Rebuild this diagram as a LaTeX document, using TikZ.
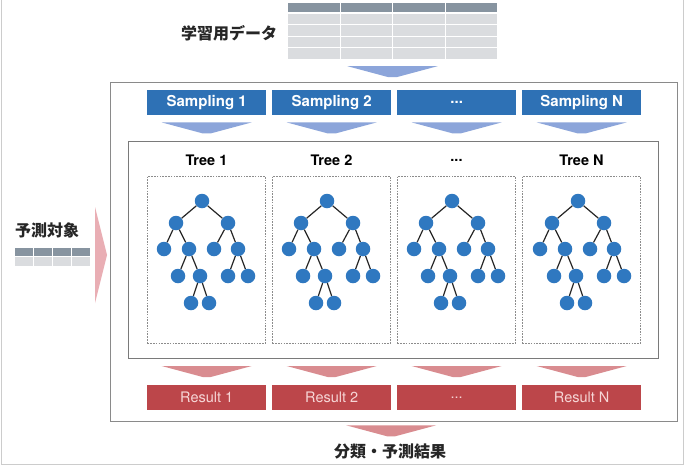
\documentclass[tikz,border=0pt]{standalone}
\usepackage{fontspec}
\setmainfont{TeX Gyre Heros}
\newfontfamily\jp{Noto Sans CJK JP}
\usetikzlibrary{calc}

\definecolor{sampblue}{HTML}{2E71B5}
\definecolor{nodeblue}{HTML}{2F78C0}
\definecolor{arrblue}{HTML}{8CA5DA}
\definecolor{resred}{HTML}{BC464A}
\definecolor{restext}{HTML}{F6D6D6}
\definecolor{arrred}{HTML}{D98C90}
\definecolor{pinkarr}{HTML}{E9AEB4}
\definecolor{hdrgray}{HTML}{8794A0}
\definecolor{rowgray}{HTML}{DADCDF}
\definecolor{framegray}{HTML}{8A8A8A}
\definecolor{innergray}{HTML}{7A7A7A}

\newcommand\mydots{...}

\tikzset{
  sampbox/.style={fill=sampblue, text=white, font=\bfseries\fontsize{15}{18}\selectfont,
    minimum width=119pt, minimum height=25pt, inner sep=0pt, anchor=north west},
  resbox/.style={fill=resred, text=restext, font=\fontsize{14.5}{17}\selectfont,
    minimum width=119pt, minimum height=25pt, inner sep=0pt, anchor=north west},
  treelabel/.style={font=\bfseries\fontsize{14.5}{17}\selectfont, inner sep=0pt},
  treebox/.style={draw=black!45, line width=0.8pt, dash pattern=on 1.6pt off 1.2pt,
    minimum width=118pt, minimum height=167pt, inner sep=0pt, anchor=north west},
  jplabel/.style={font=\jp\bfseries\fontsize{16}{19}\selectfont, text=black!85, inner sep=0pt},
  tn/.style={circle, fill=nodeblue, minimum size=14.5pt, inner sep=0pt},
  tedge/.style={draw=black!85, line width=1.2pt},
  chev/.pic={\fill[pic actions] (-45,0) -- (45,0) -- (4,11) -- (-4,11) -- cycle;},
}

% one decision tree; #1 name prefix, (#2,#3) position of the root
\newcommand\rftree[3]{%
  \begin{scope}[shift={(#2,#3)}]
    \node[tn] (#1a) at (0,0) {};
    \node[tn] (#1b) at (-26,22) {};
    \node[tn] (#1c) at (26,22) {};
    \node[tn] (#1d) at (-38,48) {};
    \node[tn] (#1e) at (-13,48) {};
    \node[tn] (#1f) at (12,48) {};
    \node[tn] (#1g) at (36,48) {};
    \node[tn] (#1h) at (-24,75) {};
    \node[tn] (#1i) at (-2,75) {};
    \node[tn] (#1j) at (26,75) {};
    \node[tn] (#1k) at (46,75) {};
    \node[tn] (#1l) at (-11,102) {};
    \node[tn] (#1m) at (7,102) {};
  \end{scope}
  \draw[tedge] (#1a) -- (#1b);
  \draw[tedge] (#1a) -- (#1c);
  \draw[tedge] (#1b) -- (#1d);
  \draw[tedge] (#1b) -- (#1e);
  \draw[tedge] (#1c) -- (#1f);
  \draw[tedge] (#1c) -- (#1g);
  \draw[tedge] (#1e) -- (#1h);
  \draw[tedge] (#1e) -- (#1i);
  \draw[tedge] (#1g) -- (#1j);
  \draw[tedge] (#1g) -- (#1k);
  \draw[tedge] (#1i) -- (#1l);
  \draw[tedge] (#1i) -- (#1m);
}

\begin{document}
\begin{tikzpicture}[x=1pt, y=-1pt]
  \useasboundingbox (0,0) rectangle (684,466);
  \fill[white] (0,0) rectangle (684,466);
  % sheet edge
  \draw[black!20, line width=1pt] (1,0) -- (1,464.5) -- (683.3,464.5) -- (683.3,0);

  % training data table
  \foreach \c in {0,...,3} {
    \fill[hdrgray] (288+\c*52.5, 3) rectangle ++(51.5, 9);
    \foreach \r in {0,...,3}
      \fill[rowgray] (288+\c*52.5, 13.5+\r*11.5) rectangle ++(51.5, 10.5);
  }
  \node[minimum width=209pt, minimum height=56pt, inner sep=0pt] (train) at (392.5,31) {};
  \node[jplabel] (trainlbl) at (229,33) {学習用データ};

  % outer and inner frames
  \node[draw=framegray, line width=1.3pt, minimum width=567pt, minimum height=339pt,
        inner sep=0pt, anchor=north west] (outer) at (110,82) {};
  \node[draw=innergray, line width=1.3pt, minimum width=530pt, minimum height=217pt,
        inner sep=0pt, anchor=north west] (inner) at (128,141) {};

  \pic[fill=arrblue] at ($(train.south)+(0,7)$) {chev};

  % sampling, trees, results
  \foreach \i/\s/\t/\r in {1/Sampling 1/Tree 1/Result 1,
                           2/Sampling 2/Tree 2/Result 2,
                           3/\mydots/\mydots/\mydots,
                           4/Sampling N/Tree N/Result N} {
    \pgfmathsetmacro\colx{147+125*(\i-1)}
    \node[sampbox] (s\i) at (\colx,90) {\s};
    \pic[fill=arrblue] at ($(s\i.south)+(0,7)$) {chev};
    \node[treelabel] (tl\i) at (\colx+59.5,160) {\t};
    \node[treebox] (tb\i) at (\colx,176) {};
    \node[resbox] (r\i) at (\colx,385) {\r};
    \pic[fill=arrred] at ($(r\i.north)+(0,-19)$) {chev};
  }

  \rftree{ta}{202}{201}
  \rftree{tb}{327}{201}
  \rftree{tc}{452}{201}
  \rftree{td}{578}{201}

  % query data
  \node[jplabel] (querylbl) at (47,230) {予測対象};
  \foreach \c in {0,...,3} {
    \fill[hdrgray] (15+\c*19, 248) rectangle ++(18, 8);
    \fill[rowgray] (15+\c*19, 257) rectangle ++(18, 9);
  }
  \fill[pinkarr] (95,207) -- (107,255) -- (95,303) -- cycle;

  % final output
  \node[jplabel] (final) at (390,451) {分類・予測結果};
  \pic[fill=arrred] at ($(outer.south)+(-3,3)$) {chev};
\end{tikzpicture}
\end{document}
